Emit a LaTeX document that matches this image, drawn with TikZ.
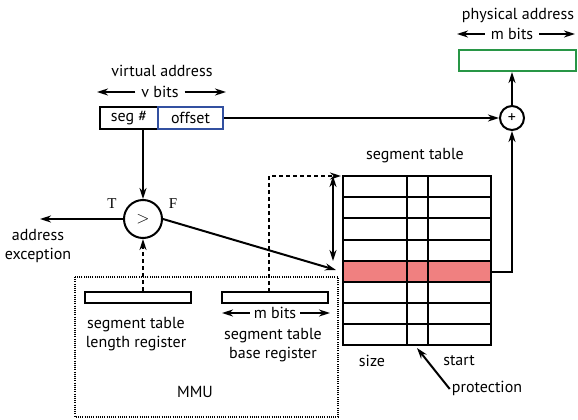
\documentclass[tikz,border=0pt]{standalone}
\usepackage{fontspec}
\setmainfont{PT Sans}
\newfontfamily\serifTF{Liberation Serif}
\usetikzlibrary{arrows.meta,calc}
\definecolor{pinkrow}{RGB}{240,128,128}
\definecolor{offblue}{RGB}{50,80,160}
\definecolor{physgreen}{RGB}{40,150,70}
\tikzset{
  arr/.style={line width=2pt,-{Stealth[length=11pt,width=7pt]}},
  dbl/.style={line width=2pt,{Stealth[length=11pt,width=7pt]}-{Stealth[length=11pt,width=7pt]}},
  dsh/.style={line width=2pt,dash pattern=on 4pt off 3pt,-{Stealth[length=11pt,width=7pt]}},
  lbl/.style={font=\fontsize{16}{19}\selectfont,inner sep=0pt,align=center},
  box/.style={draw,line width=2pt,inner sep=0pt,font=\fontsize{16}{19}\selectfont},
  reg/.style={draw,line width=2pt,minimum width=106pt,minimum height=11pt,inner sep=0pt},
  circ/.style={draw,circle,line width=2pt,inner sep=0pt,font=\fontsize{16}{19}\selectfont},
}
\begin{document}
\begin{tikzpicture}[x=1pt,y=-1pt]
\useasboundingbox (0,0) rectangle (578,420);
% MMU box
\draw[line width=1.8pt,dash pattern=on 1pt off 1.2pt] (75,277) rectangle (338,417);
\node[lbl] (mmu) at (195,392) {MMU};
% virtual address
\node[lbl] (va) at (162,71) {virtual address};
\node[lbl] (vbits) at (160,92) {v bits};
\draw[arr] ([xshift=-6pt]vbits.west) -- (97,92);
\draw[arr] ([xshift=6pt]vbits.east) -- (226,92);
\node[box,minimum width=58pt,minimum height=22pt] (seg) at (129,118) {seg \#};
\node[box,draw=offblue,minimum width=65pt,minimum height=22pt] (off) at (190.5,118) {offset};
% physical address
\node[lbl] (pa) at (518,15) {physical address};
\node[lbl] (mbits1) at (512,34) {m bits};
\draw[arr] ([xshift=-6pt]mbits1.west) -- (457,34);
\draw[arr] ([xshift=6pt]mbits1.east) -- (575,34);
\node[box,draw=physgreen,minimum width=117pt,minimum height=21pt] (phys) at (517.5,60.5) {};
\node[circ,minimum size=24pt] (plus) at (512,118) {+};
% comparator
\node[circ,minimum size=38pt] (cmp) at (143,219) {$>$};
\node[lbl,font=\serifTF\fontsize{15}{18}\selectfont] (T) at (112,204) {T};
\node[lbl,font=\serifTF\fontsize{15}{18}\selectfont] (F) at (173,204) {F};
\node[lbl] (exc) at (38,246) {address\\exception};
\coordinate (excend) at (40,219);
% segment table
\node[lbl] (sttl) at (415,156) {segment table};
\node[draw=none,fill=pinkrow,minimum width=148pt,minimum height=21pt,inner sep=0pt] (hl) at (417,271.5) {};
\node[draw,line width=2pt,minimum width=148pt,minimum height=169pt,inner sep=0pt] (tab) at (417,260.5) {};
\foreach \y in {197,218,240,261,282,303,324}
  \draw[line width=2pt] (343,\y) -- (491,\y);
\draw[line width=2pt] (407,176) -- (407,345);
\draw[line width=2pt] (428,176) -- (428,345);
\node[lbl] (size) at (372,361) {size};
\node[lbl] (start) at (459,361) {start};
\node[lbl] (prot) at (487,388) {protection};
\coordinate (prottip) at (417,348);
% registers
\node[reg] (stlr) at (138,297.5) {};
\node[reg] (stbr) at (275,297.5) {};
\node[lbl] (stlrt) at (136,334) {segment table\\length register};
\node[lbl] (mbits2) at (275,313) {m bits};
\draw[arr] ([xshift=-4pt]mbits2.west) -- (222,313);
\draw[arr] ([xshift=4pt]mbits2.east) -- (330,313);
\node[lbl] (stbrt) at (273,345) {segment table\\base register};
% connectors
\draw[arr] (cmp.north |- seg.south) -- (cmp.north);
\draw[arr] (off.east) -- (plus.west);
\draw[arr] (plus.north) -- (plus.north |- phys.south);
\draw[arr] (hl.east) -| (plus.south);
\draw[arr] (cmp.west) -- (excend);
\coordinate (hlin) at (336,270);
\draw[arr] (cmp.east) -- (hlin);
\draw[dbl] (333,176) -- (333,261);
\draw[dsh] (269,292) -- (269,176) -- (341,176);
\draw[dsh] (cmp.south |- stlr.north) -- (cmp.south);
\draw[arr] ([xshift=-2pt,yshift=-1pt]prot.west) -- (prottip);
\end{tikzpicture}
\end{document}
